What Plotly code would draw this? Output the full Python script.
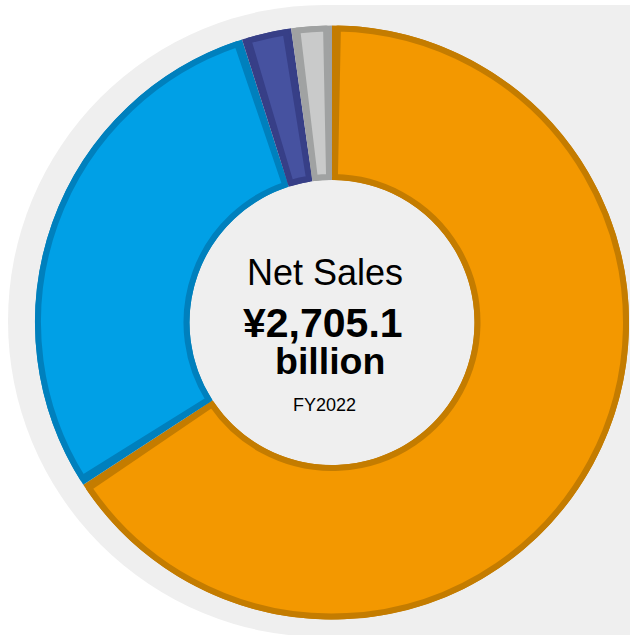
import plotly.graph_objects as go

# Net sales composition, FY2022 (share of total, %)
segments = ["Segment A", "Segment B", "Segment C", "Other"]
shares = [65.8, 29.3, 2.7, 2.2]
fill_colors = ["#F39800", "#00A0E6", "#4652A0", "#C9CACA"]
edge_colors = ["#C47C00", "#0080BD", "#373F87", "#A0A2A2"]

title_text = "Net Sales"
amount_text = "¥2,705.1"
unit_text = "billion"
period_text = "FY2022"

W, H = 630, 635
CX, CY = 332, 322.5        # donut centre (px, from top-left)
R_OUT, R_IN = 297, 142.5   # outer / inner radius (px)
EDGE = 6                   # inset border width (px)
GAP_DEG = 1.15             # angular gap between slice fills (each side)


def domain(cx, cy, r):
    return dict(x=[(cx - r) / W, (cx + r) / W],
                y=[(H - cy - r) / H, (H - cy + r) / H])


fig = go.Figure()

# Base ring: every slice in its border colour
fig.add_trace(go.Pie(
    labels=segments, values=shares, sort=False, direction="clockwise",
    rotation=0, hole=R_IN / R_OUT, domain=domain(CX, CY, R_OUT),
    marker=dict(colors=edge_colors, line=dict(width=0)),
    textinfo="none", hoverinfo="label+percent", showlegend=False,
))

# Inner fills, separated by small transparent spacers
total = sum(shares)
g = total * GAP_DEG / 360
vals, cols, lcols, lwidths, labs = [], [], [], [], []
for name, v, fc, ec in zip(segments, shares, fill_colors, edge_colors):
    vals += [g, v - 2 * g, g]
    cols += ["rgba(0,0,0,0)", fc, "rgba(0,0,0,0)"]
    lcols += ["rgba(0,0,0,0)", ec, "rgba(0,0,0,0)"]
    lwidths += [0, EDGE, 0]
    labs += [name + " gap a", name, name + " gap b"]

r2_out = R_OUT - EDGE / 2
r2_in = R_IN + EDGE / 2
fig.add_trace(go.Pie(
    labels=labs, values=vals, sort=False, direction="clockwise",
    rotation=0, hole=r2_in / r2_out, domain=domain(CX, CY, r2_out),
    marker=dict(colors=cols, line=dict(color=lcols, width=lwidths)),
    textinfo="none", hoverinfo="skip", showlegend=False,
))

# Light grey backdrop: round on the left, square on the right
BG = "#EFEFEF"
GX, GY, GR = 324, 321, 316


def px_x(x):
    return x / W


def px_y(y):
    return (H - y) / H


shapes = [
    dict(type="circle", xref="paper", yref="paper", layer="below",
         x0=px_x(GX - GR), x1=px_x(GX + GR), y0=px_y(GY + GR), y1=px_y(GY - GR),
         fillcolor=BG, line=dict(width=0)),
    dict(type="rect", xref="paper", yref="paper", layer="below",
         x0=px_x(GX), x1=px_x(W + 20), y0=px_y(H + 20), y1=px_y(GY - GR),
         fillcolor=BG, line=dict(width=0)),
]

FONT = "Liberation Sans, Arial, Helvetica, sans-serif"
annotations = [
    dict(text=title_text, x=px_x(325), y=px_y(272), font=dict(size=36)),
    dict(text="<b>" + amount_text + "</b>", x=px_x(323), y=px_y(322.5), font=dict(size=41)),
    dict(text="<b>" + unit_text + "</b>", x=px_x(330), y=px_y(361), font=dict(size=37.5)),
    dict(text=period_text, x=px_x(324.5), y=px_y(405), font=dict(size=18)),
]
for a in annotations:
    a.update(xref="paper", yref="paper", xanchor="center", yanchor="middle",
             showarrow=False)
    a["font"].update(family=FONT, color="#000000")

fig.update_layout(
    width=W, height=H, margin=dict(l=0, r=0, t=0, b=0),
    paper_bgcolor="#FFFFFF", plot_bgcolor="#FFFFFF",
    shapes=shapes, annotations=annotations, showlegend=False,
)

fig.write_html("out.html")
